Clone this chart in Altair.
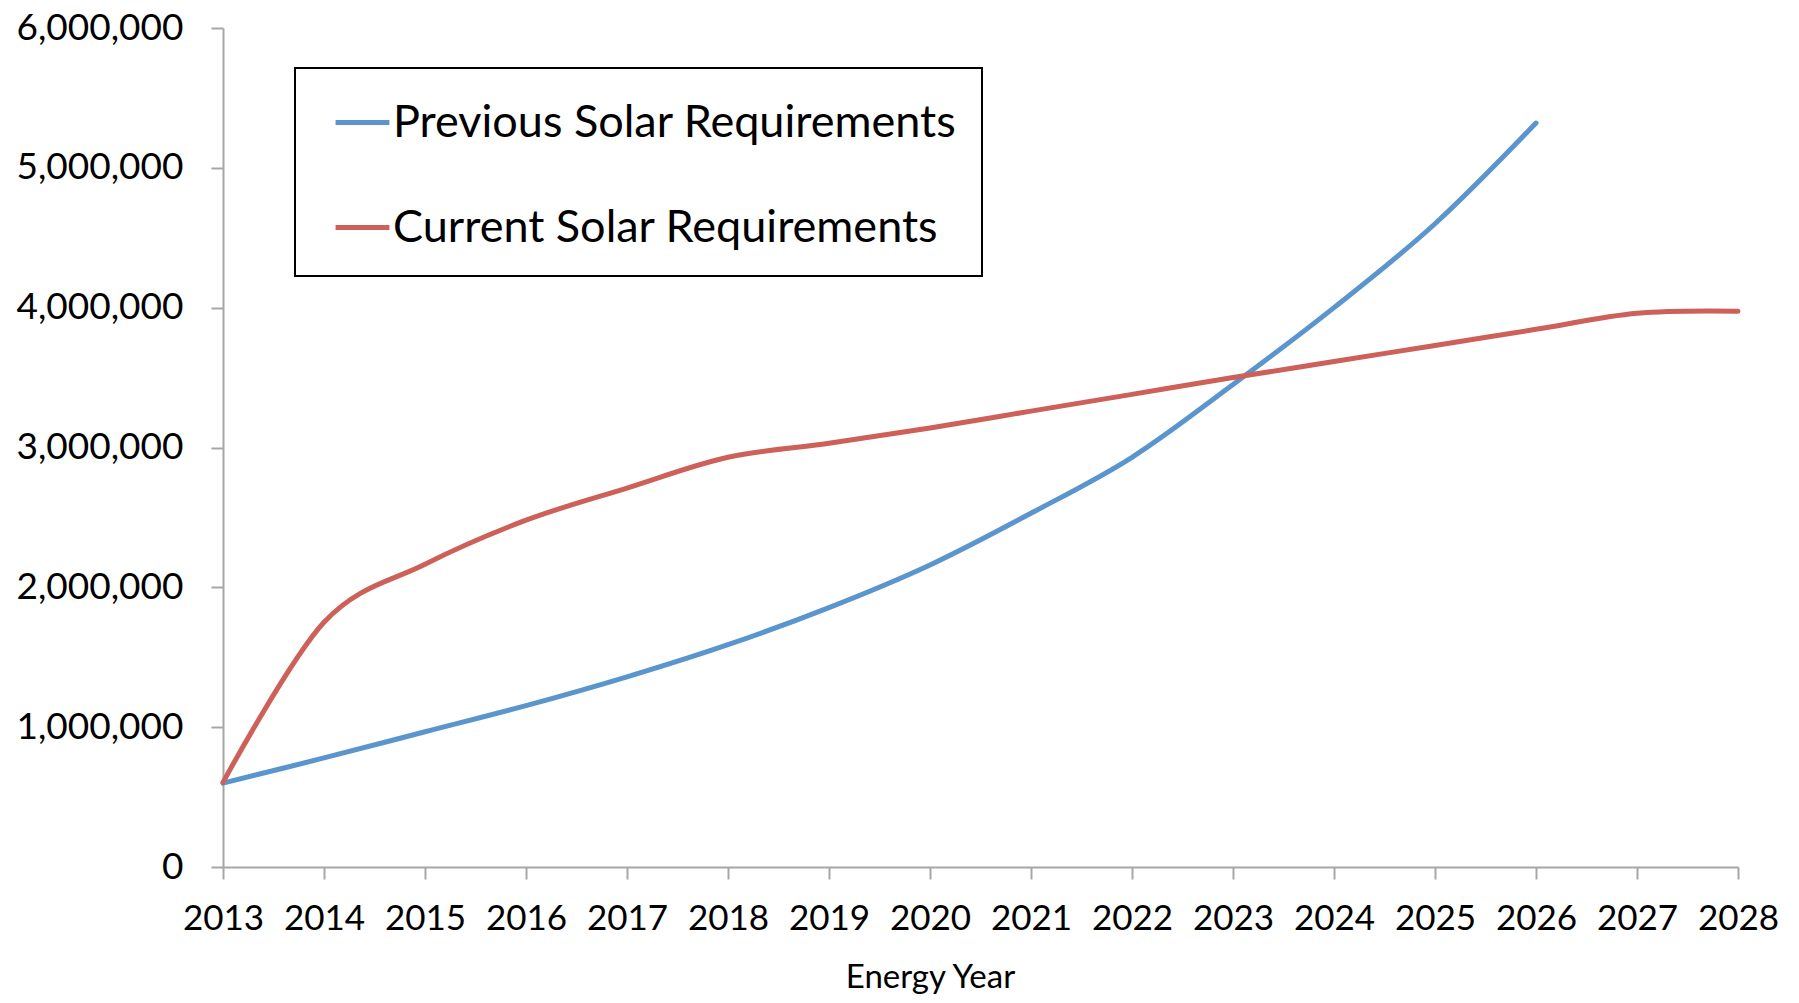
import altair as alt
import pandas as pd

years_prev = list(range(2013, 2027))
prev_values = [600000, 780000, 967000, 1154000, 1360000, 1590000, 1855000,
               2160000, 2530000, 2930000, 3450000, 4000000, 4600000, 5320000]

years_curr = list(range(2013, 2029))
curr_values = [605000, 1750000, 2165000, 2480000, 2710000, 2930000, 3030000,
               3140000, 3260000, 3380000, 3500000, 3615000, 3730000, 3845000,
               3960000, 3975000]

series_names = ["Previous Solar Requirements", "Current Solar Requirements"]
series_colors = ["#5B95CE", "#CD6058"]

rows = []
for y, v in zip(years_prev, prev_values):
    rows.append({"year": y, "value": v, "series": series_names[0]})
for y, v in zip(years_curr, curr_values):
    rows.append({"year": y, "value": v, "series": series_names[1]})
df = pd.DataFrame(rows)

FONT = "Lato"

chart = alt.Chart(df).mark_line(
    interpolate="cardinal", strokeWidth=5, strokeCap="round"
).encode(
    x=alt.X(
        "year:Q",
        scale=alt.Scale(domain=[2013, 2028], nice=False, zero=False),
        axis=alt.Axis(
            title="Energy Year",
            values=list(range(2013, 2029)),
            format="d",
            grid=False,
            tickSize=12,
            labelPadding=22,
            labelFontSize=35,
            labelFont=FONT,
            labelColor="#000000",
            titleFont=FONT,
            titleFontSize=33,
            titleFontWeight="normal",
            titleColor="#000000",
            titleX=707,
            titleY=110,
            titleBaseline="middle",
            titleAlign="center",
            domainColor="#A6A6A6",
            tickColor="#A6A6A6",
            domainWidth=2,
            tickWidth=2,
            labelFlush=False,
            labelOverlap=False,
        ),
    ),
    y=alt.Y(
        "value:Q",
        scale=alt.Scale(domain=[0, 6000000], nice=False),
        axis=alt.Axis(
            title=None,
            values=[0, 1000000, 2000000, 3000000, 4000000, 5000000, 6000000],
            format=",d",
            grid=False,
            tickSize=12,
            labelPadding=28,
            labelFontSize=37,
            labelFont=FONT,
            labelColor="#000000",
            domainColor="#A6A6A6",
            tickColor="#A6A6A6",
            domainWidth=2,
            tickWidth=2,
            labelFlush=False,
            labelOverlap=False,
        ),
    ),
    color=alt.Color(
        "series:N",
        scale=alt.Scale(domain=series_names, range=series_colors),
        sort=series_names,
        legend=alt.Legend(
            title=None,
            orient="none",
            legendX=72,
            legendY=40,
            direction="vertical",
            symbolType="stroke",
            symbolStrokeWidth=5,
            symbolSize=2900,
            symbolOffset=13,
            labelFont=FONT,
            labelFontSize=45,
            labelColor="#000000",
            labelOffset=1,
            labelLimit=1000,
            rowPadding=52,
            padding=25,
            strokeColor="#000000",
            fillColor="#FFFFFF",
        ),
    ),
).properties(
    width=1515,
    height=839,
    autosize=alt.AutoSizeParams(type="none"),
    padding={"left": 215, "top": 20, "right": 50, "bottom": 128},
).configure_view(
    stroke=None
).configure_legend(
    strokeWidth=2
)

chart.save("out.html", embed_options={"renderer": "svg", "actions": False})
